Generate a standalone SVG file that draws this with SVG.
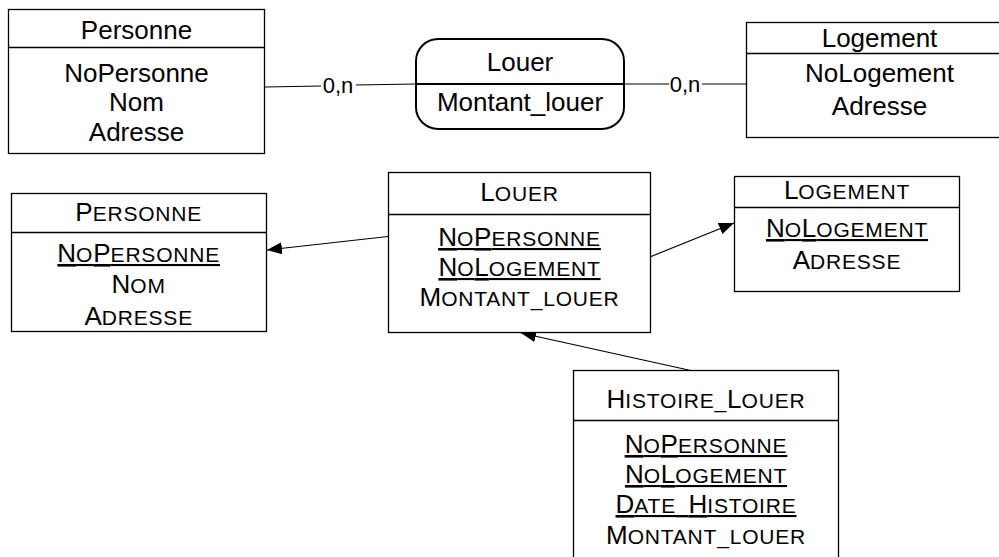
<svg xmlns="http://www.w3.org/2000/svg" width="999" height="557" viewBox="0 0 999 557">
  <style>
    .box{fill:#fff;stroke:#000;stroke-width:1.3}
    .rel{fill:#fff;stroke:#000;stroke-width:2}
    .sep{stroke:#000;stroke-width:1.3}
    .t{font-family:"Liberation Sans",Arial,sans-serif;font-size:26px;fill:#000;text-anchor:middle}
    .s{font-size:21px;letter-spacing:0.8px}
    .u{text-decoration:underline}
    .card{font-family:"Liberation Sans",Arial,sans-serif;font-size:22px;fill:#000;text-anchor:middle}
    .conn{stroke:#000;stroke-width:1.2;fill:none}
    .fk{stroke:#000;stroke-width:1.2;fill:none;marker-end:url(#arrow)}
  </style>
  <defs>
    <marker id="arrow" markerUnits="userSpaceOnUse" markerWidth="16" markerHeight="12" refX="15" refY="6" orient="auto">
      <path d="M0,0 L15,6 L0,12 z" fill="#000"/>
    </marker>
  </defs>
  <rect width="999" height="557" fill="#fff"/>

  <!-- connectors -->
  <g id="connectors">
    <line class="conn" x1="265" y1="87" x2="321" y2="86"/>
    <text class="card" x="338" y="93">0,n</text>
    <line class="conn" x1="356" y1="85" x2="416" y2="84"/>
    <line class="conn" x1="624" y1="84" x2="669" y2="84"/>
    <text class="card" x="685" y="92">0,n</text>
    <line class="conn" x1="702" y1="84" x2="746" y2="84"/>

    <line class="fk" x1="388" y1="236.5" x2="267" y2="250"/>
    <line class="fk" x1="651" y1="256.5" x2="734" y2="223"/>
    <line class="fk" x1="693" y1="371" x2="521" y2="333"/>
  </g>

  <!-- conceptual model -->
  <g id="personne">
    <rect class="box" x="8.5" y="9.5" width="256" height="144"/>
    <line class="sep" x1="8.5" y1="47.5" x2="264.5" y2="47.5"/>
    <text class="t" x="136.5" y="39">Personne</text>
    <text class="t" x="136.5" y="82">NoPersonne</text>
    <text class="t" x="136.5" y="111">Nom</text>
    <text class="t" x="136.5" y="141">Adresse</text>
  </g>

  <g id="louer">
    <rect class="rel" x="416" y="39" width="208" height="90" rx="22" ry="22"/>
    <line class="rel" x1="416" y1="84" x2="624" y2="84"/>
    <text class="t" x="520" y="71">Louer</text>
    <text class="t" x="520" y="111">Montant_louer</text>
  </g>

  <g id="logement">
    <rect class="box" x="746.5" y="22.5" width="266" height="115"/>
    <line class="sep" x1="746.5" y1="53.5" x2="1012.5" y2="53.5"/>
    <text class="t" x="879.5" y="47">Logement</text>
    <text class="t" x="879.5" y="82">NoLogement</text>
    <text class="t" x="879.5" y="115">Adresse</text>
  </g>

  <!-- relational model -->
  <g id="table-personne">
    <rect class="box" x="11.5" y="193.5" width="255" height="138"/>
    <line class="sep" x1="11.5" y1="232.5" x2="266.5" y2="232.5"/>
    <text class="t" x="138.7" y="221">P<tspan class="s">ERSONNE</tspan></text>
    <text class="t u" x="138.7" y="262">N<tspan class="s">O</tspan>P<tspan class="s">ERSONNE</tspan></text>
    <text class="t" x="138.7" y="293">N<tspan class="s">OM</tspan></text>
    <text class="t" x="138.7" y="325">A<tspan class="s">DRESSE</tspan></text>
  </g>

  <g id="table-louer">
    <rect class="box" x="388.5" y="172.5" width="262" height="160"/>
    <line class="sep" x1="388.5" y1="214.5" x2="650.5" y2="214.5"/>
    <text class="t" x="519.5" y="201">L<tspan class="s">OUER</tspan></text>
    <text class="t u" x="519.5" y="246">N<tspan class="s">O</tspan>P<tspan class="s">ERSONNE</tspan></text>
    <text class="t u" x="519.5" y="276">N<tspan class="s">O</tspan>L<tspan class="s">OGEMENT</tspan></text>
    <text class="t" x="519.5" y="306">M<tspan class="s">ONTANT_LOUER</tspan></text>
  </g>

  <g id="table-logement">
    <rect class="box" x="734.5" y="176.5" width="225" height="115"/>
    <line class="sep" x1="734.5" y1="207.5" x2="959.5" y2="207.5"/>
    <text class="t" x="847" y="199">L<tspan class="s">OGEMENT</tspan></text>
    <text class="t u" x="847" y="237">N<tspan class="s">O</tspan>L<tspan class="s">OGEMENT</tspan></text>
    <text class="t" x="847" y="269">A<tspan class="s">DRESSE</tspan></text>
  </g>

  <g id="table-histoire-louer">
    <rect class="box" x="573.5" y="370.5" width="265" height="200"/>
    <line class="sep" x1="573.5" y1="420.5" x2="838.5" y2="420.5"/>
    <text class="t" x="706" y="408">H<tspan class="s">ISTOIRE_</tspan>L<tspan class="s">OUER</tspan></text>
    <text class="t u" x="706" y="453">N<tspan class="s">O</tspan>P<tspan class="s">ERSONNE</tspan></text>
    <text class="t u" x="706" y="483">N<tspan class="s">O</tspan>L<tspan class="s">OGEMENT</tspan></text>
    <text class="t u" x="706" y="513">D<tspan class="s">ATE_</tspan>H<tspan class="s">ISTOIRE</tspan></text>
    <text class="t" x="706" y="544">M<tspan class="s">ONTANT_LOUER</tspan></text>
  </g>
</svg>
